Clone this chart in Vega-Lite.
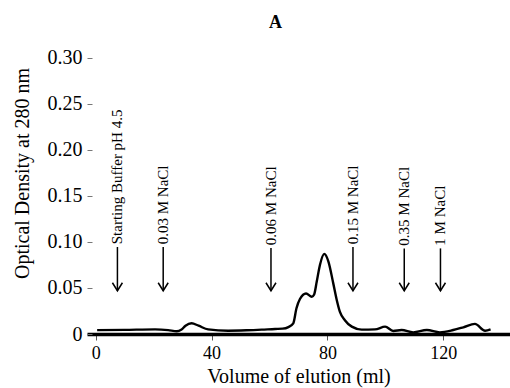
{
  "$schema": "https://vega.github.io/schema/vega-lite/v6.json",
  "autosize": "none",
  "width": 423,
  "height": 301,
  "padding": {"left": 87, "top": 33, "right": 0, "bottom": 54},
  "background": "white",
  "title": {"text": "A", "font": "Liberation Serif", "fontSize": 18, "fontWeight": "bold", "color": "black", "anchor": "middle", "dx": -23, "offset": 1},
  "config": {
    "view": {"stroke": null},
    "font": "Liberation Serif",
    "axis": {"labelFont": "Liberation Serif", "titleFont": "Liberation Serif", "labelColor": "black", "titleColor": "black", "titleFontWeight": "normal", "grid": false}
  },
  "datasets": {
    "curve": [
      {"ml": 0.5, "od": 0.0042},
      {"ml": 10, "od": 0.0045},
      {"ml": 20.5, "od": 0.005},
      {"ml": 25, "od": 0.0042},
      {"ml": 28, "od": 0.003},
      {"ml": 29.5, "od": 0.0045},
      {"ml": 31, "od": 0.009},
      {"ml": 33.1, "od": 0.0116},
      {"ml": 35.5, "od": 0.009},
      {"ml": 38.8, "od": 0.005},
      {"ml": 45.7, "od": 0.0036},
      {"ml": 52, "od": 0.004},
      {"ml": 57.3, "od": 0.0047},
      {"ml": 61.9, "od": 0.0055},
      {"ml": 64.5, "od": 0.0058},
      {"ml": 66.5, "od": 0.0075},
      {"ml": 68.2, "od": 0.0116},
      {"ml": 69.3, "od": 0.028},
      {"ml": 70.5, "od": 0.038},
      {"ml": 72.6, "od": 0.044},
      {"ml": 74.6, "od": 0.0405},
      {"ml": 75.4, "od": 0.043},
      {"ml": 76.3, "od": 0.057},
      {"ml": 77.4, "od": 0.075},
      {"ml": 78.9, "od": 0.087},
      {"ml": 80.3, "od": 0.079},
      {"ml": 82, "od": 0.055},
      {"ml": 83.2, "od": 0.037},
      {"ml": 84.3, "od": 0.024},
      {"ml": 86, "od": 0.015},
      {"ml": 88.4, "od": 0.008},
      {"ml": 91.8, "od": 0.0048},
      {"ml": 96.4, "od": 0.005},
      {"ml": 99.9, "od": 0.008},
      {"ml": 102.7, "od": 0.0033},
      {"ml": 105.6, "od": 0.0043},
      {"ml": 109.6, "od": 0.0018},
      {"ml": 114.3, "od": 0.0043},
      {"ml": 118.8, "od": 0.0018},
      {"ml": 123.4, "od": 0.0043},
      {"ml": 126.9, "od": 0.0073},
      {"ml": 130.9, "od": 0.011},
      {"ml": 134.4, "od": 0.0036},
      {"ml": 136.3, "od": 0.005}
    ],
    "notes": [
      {"ml": 7.5, "label": "Starting Buffer pH 4.5", "top": 0.0945, "tip": 0.047, "textY": 0.0975},
      {"ml": 23.3, "label": "0.03 M NaCl", "top": 0.0945, "tip": 0.047, "textY": 0.0975},
      {"ml": 60.5, "label": "0.06 M NaCl", "top": 0.0935, "tip": 0.047, "textY": 0.0965},
      {"ml": 88.8, "label": "0.15 M NaCl", "top": 0.0945, "tip": 0.047, "textY": 0.0975},
      {"ml": 106.5, "label": "0.35 M NaCl", "top": 0.093, "tip": 0.047, "textY": 0.096},
      {"ml": 119, "label": "1 M NaCl", "top": 0.093, "tip": 0.047, "textY": 0.096}
    ]
  },
  "layer": [
    {
      "data": {"name": "curve"},
      "mark": {"type": "line", "color": "black", "strokeWidth": 2.4, "interpolate": "monotone"},
      "encoding": {
        "x": {
          "field": "ml", "type": "quantitative",
          "scale": {"domain": [-3, 143], "nice": false, "zero": false},
          "axis": {
            "title": "Volume of elution (ml)", "titleFontSize": 20, "titlePadding": 4,
            "values": [0, 40, 80, 120], "labelFontSize": 18, "labelPadding": 4,
            "domainColor": "black", "domainWidth": 3.5, "tickColor": "#555", "tickSize": 6, "tickWidth": 1
          }
        },
        "y": {
          "field": "od", "type": "quantitative",
          "scale": {"domain": [0, 0.327], "nice": false},
          "axis": {
            "title": "Optical Density at  280 nm", "titleFontSize": 20, "titlePadding": 15, "titleY": 140,
            "values": [0, 0.05, 0.1, 0.15, 0.2, 0.25, 0.3],
            "labelExpr": "datum.value == 0 ? '0' : format(datum.value, '.2f')",
            "labelFontSize": 20, "labelPadding": 5, "offset": -5,
            "domain": false, "tickColor": "#777", "tickSize": 5, "tickWidth": 1
          }
        }
      }
    },
    {
      "mark": {"type": "rule", "color": "black", "strokeWidth": 3},
      "encoding": {"x": {"datum": 0, "type": "quantitative"}}
    },
    {
      "data": {"name": "notes"},
      "mark": {"type": "rule", "color": "black", "strokeWidth": 1.5},
      "encoding": {
        "x": {"field": "ml", "type": "quantitative"},
        "y": {"field": "top", "type": "quantitative"},
        "y2": {"field": "tip"}
      }
    },
    {
      "data": {"name": "notes"},
      "mark": {"type": "point", "shape": "M -1 -1.6 L 0 0 L 1 -1.6", "filled": false, "stroke": "black", "strokeWidth": 1.5, "size": 100, "opacity": 1},
      "encoding": {
        "x": {"field": "ml", "type": "quantitative"},
        "y": {"field": "tip", "type": "quantitative"}
      }
    },
    {
      "data": {"name": "notes"},
      "mark": {"type": "text", "angle": 270, "align": "left", "baseline": "middle", "font": "Liberation Serif", "fontSize": 15, "color": "black"},
      "encoding": {
        "x": {"field": "ml", "type": "quantitative"},
        "y": {"field": "textY", "type": "quantitative"},
        "text": {"field": "label"}
      }
    }
  ]
}
